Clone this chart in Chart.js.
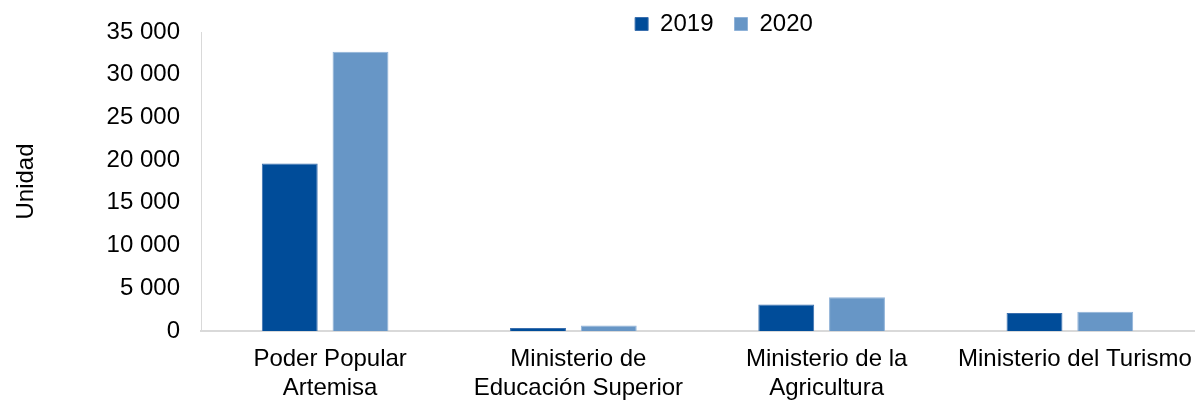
<!DOCTYPE html>
<html lang="es">
<head>
    <meta charset="UTF-8">
    <title>Unidad por organismo</title>
    <script src="https://cdn.jsdelivr.net/npm/chart.js"></script>
    <style>
        body { margin: 0; background: #fff; }
        #wrap { width: 1199px; height: 401px; }
    </style>
</head>
<body>
    <div id="wrap"><canvas id="unidadChart"></canvas></div>

    <script>
        const categories = [
            ['Poder Popular', 'Artemisa'],
            ['Ministerio de', 'Educación Superior'],
            ['Ministerio de la', 'Agricultura'],
            'Ministerio del Turismo'
        ];
        const values2019 = [19600, 350, 3100, 2100];
        const values2020 = [32700, 650, 3950, 2250];

        // space as thousands separator, like the original
        function fmt(v) {
            return String(v).replace(/\B(?=(\d{3})+(?!\d))/g, ' ');
        }

        // nudge the legend to where the original has it (and give it room to draw)
        const legendShift = {
            id: 'legendShift',
            afterLayout(chart) {
                const l = chart.legend;
                l.left += 124; l.right += 124;
                l.top = -9;
                l.bottom = l.top + 80;
            }
        };

        Chart.defaults.font.family = '"Liberation Sans", Arial, sans-serif';
        Chart.defaults.font.size = 24;
        Chart.defaults.color = '#000';

        const ctx = document.getElementById('unidadChart').getContext('2d');
        new Chart(ctx, {
            type: 'bar',
            data: {
                labels: categories,
                datasets: [{
                    label: '2019',
                    data: values2019,
                    backgroundColor: '#004C99',
                    borderColor: '#3A6FAE',
                    borderWidth: 1
                }, {
                    label: '2020',
                    data: values2020,
                    backgroundColor: '#6796C6',
                    borderColor: '#8FB2D8',
                    borderWidth: 1
                }]
            },
            options: {
                responsive: true,
                maintainAspectRatio: false,
                animation: false,
                categoryPercentage: 0.57,
                barPercentage: 0.79,
                layout: { padding: { left: 6, right: 5, top: 3, bottom: 0 } },
                plugins: {
                    legend: {
                        position: 'top',
                        maxHeight: 29,
                        labels: {
                            boxWidth: 13,
                            boxHeight: 13,
                            padding: 21
                        }
                    },
                    tooltip: { enabled: false }
                },
                scales: {
                    x: {
                        grid: { display: false },
                        border: { color: '#D9D9D9', width: 2 },
                        ticks: { padding: 6, maxRotation: 0, labelOffset: 5 },
                        afterFit(axis) { axis.height = 70; }
                    },
                    y: {
                        min: 0,
                        max: 35000,
                        grid: { display: false },
                        border: { color: '#D9D9D9', width: 1 },
                        ticks: {
                            stepSize: 5000,
                            padding: 13,
                            callback: v => fmt(v)
                        },
                        title: {
                            display: true,
                            text: 'Unidad',
                            padding: { top: 6, bottom: 28 }
                        },
                        afterFit(axis) { axis.width = 195; }
                    }
                }
            },
            plugins: [legendShift]
        });
    </script>
</body>
</html>
